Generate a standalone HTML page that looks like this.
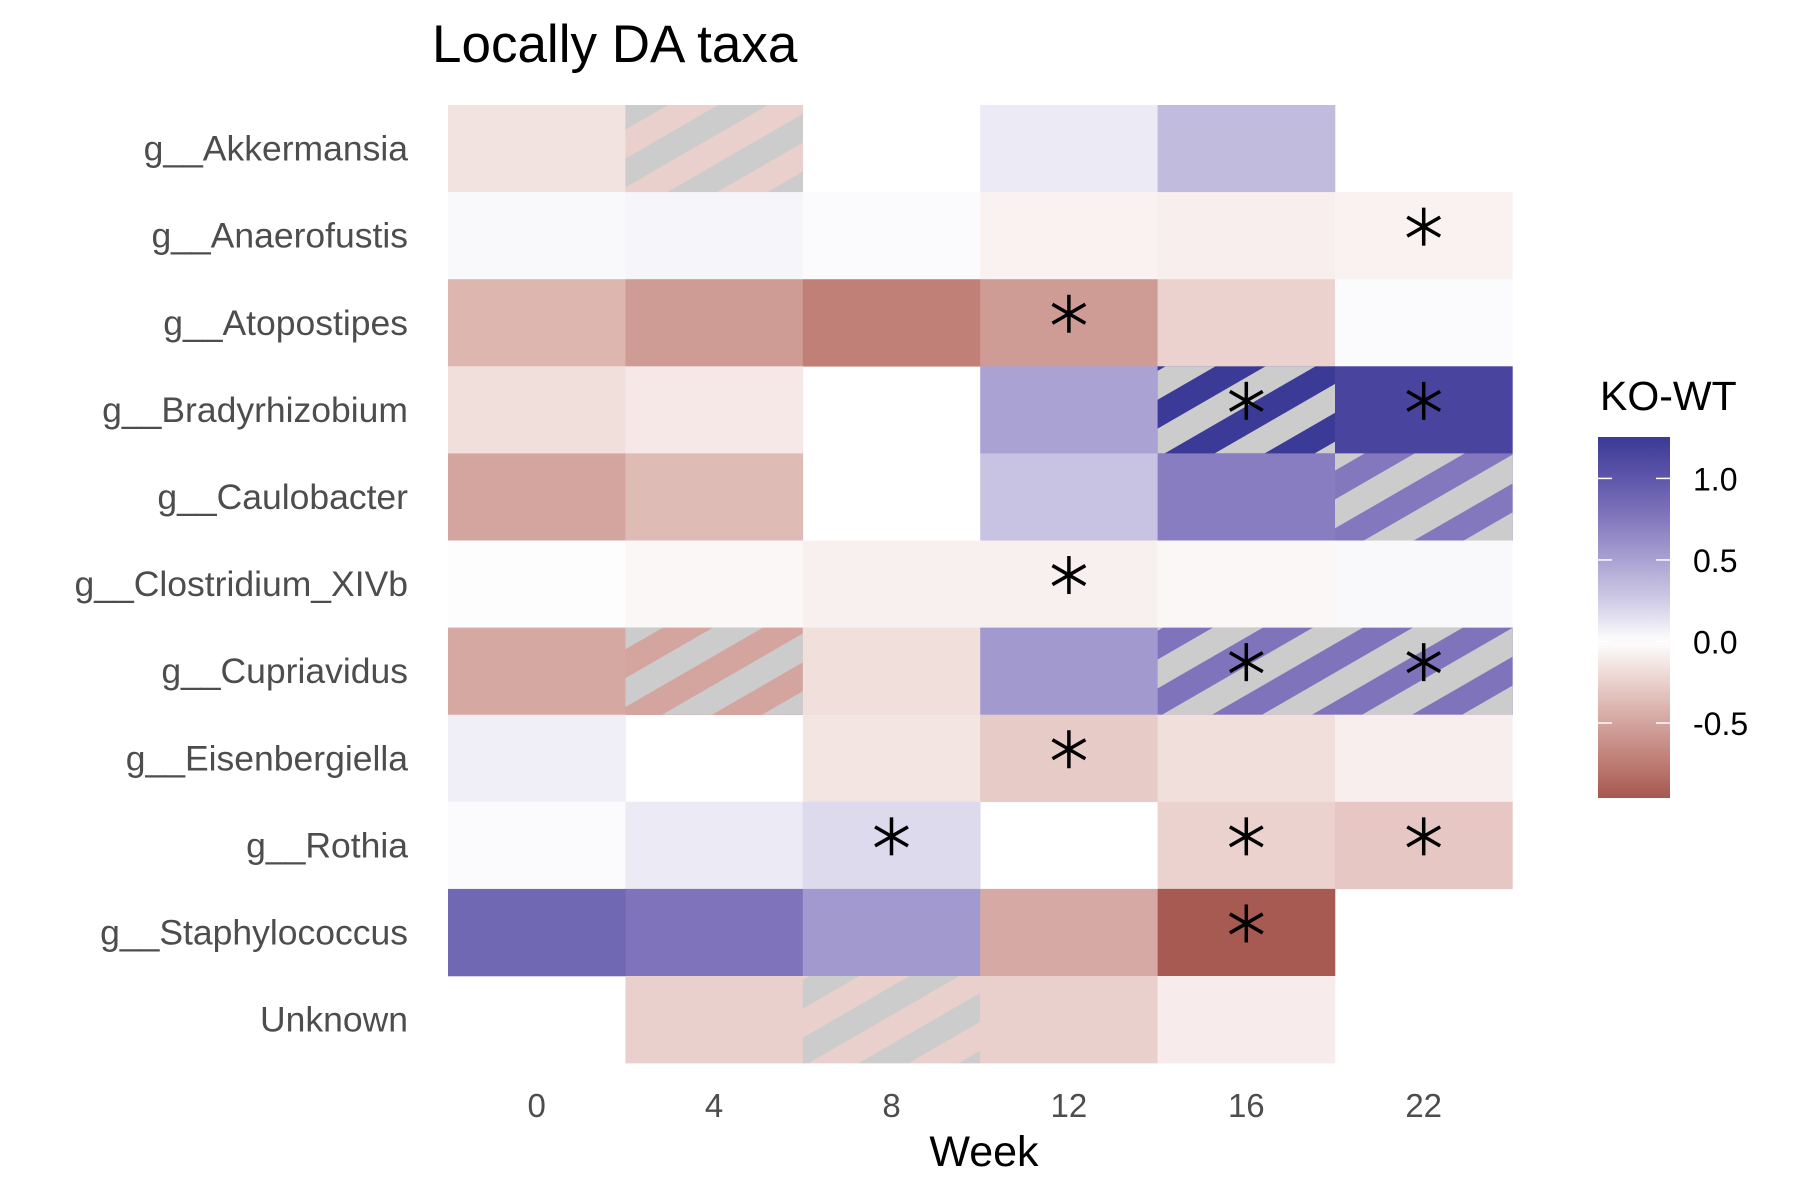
<!DOCTYPE html>
<html><head><meta charset="utf-8"><style>
html,body{margin:0;padding:0;background:#fff;}
svg{display:block;font-family:"Liberation Sans",sans-serif;}
</style></head><body>
<svg id="chart" width="1800" height="1200" viewBox="0 0 1800 1200">
<defs>
<pattern id="hatch" patternUnits="userSpaceOnUse" width="50" height="50" patternTransform="rotate(60)">
<rect x="0" y="0" width="25" height="50" fill="#cccccc"/>
</pattern>
<linearGradient id="cbar" x1="0" y1="1" x2="0" y2="0"></linearGradient>
</defs>
<text x="432" y="62" font-size="53" fill="#000">Locally DA taxa</text>
<g id="tiles"></g>
<g id="ylabels"></g>
<g id="xlabels"></g>
<text x="984" y="1166" font-size="43" text-anchor="middle" fill="#000">Week</text>
<g id="legend">
<text x="1600" y="410" font-size="41" fill="#000">KO-WT</text>
<rect id="cbarRect" x="1598" y="437" width="72" height="361" fill="url(#cbar)"/>
<g id="cticks"></g>
</g>
</svg>
<script>
const taxa = ["g__Akkermansia","g__Anaerofustis","g__Atopostipes","g__Bradyrhizobium","g__Caulobacter","g__Clostridium_XIVb","g__Cupriavidus","g__Eisenbergiella","g__Rothia","g__Staphylococcus","Unknown"];
const weeks = ["0","4","8","12","16","22"];
const values = [
 [-0.15,-0.25,null,0.1,0.35,null],
 [0.03,0.05,0.02,-0.07,-0.09,-0.07],
 [-0.4,-0.55,-0.72,-0.55,-0.24,0.02],
 [-0.17,-0.12,null,0.5,1.25,1.15],
 [-0.5,-0.37,null,0.3,0.72,0.75],
 [-0.01,-0.04,-0.08,-0.08,-0.04,0.03],
 [-0.48,-0.5,-0.17,0.55,0.78,0.78],
 [0.08,null,-0.14,-0.28,-0.17,-0.09],
 [0.02,0.1,0.18,null,-0.24,-0.3],
 [0.87,0.78,0.55,-0.47,-0.95,null],
 [null,-0.25,-0.25,-0.25,-0.1,null]
];
const hatched = [
 [0,1,0,0,0,0],[0,0,0,0,0,0],[0,0,0,0,0,0],[0,0,0,0,1,0],[0,0,0,0,0,1],
 [0,0,0,0,0,0],[0,1,0,0,1,1],[0,0,0,0,0,0],[0,0,0,0,0,0],[0,0,0,0,0,0],[0,0,1,0,0,0]
];
const signif = [
 [0,0,0,0,0,0],[0,0,0,0,0,1],[0,0,0,1,0,0],[0,0,0,0,1,1],[0,0,0,0,0,0],
 [0,0,0,1,0,0],[0,0,0,0,1,1],[0,0,0,1,0,0],[0,0,1,0,1,1],[0,0,0,0,1,0],[0,0,0,0,0,0]
];
const legendTicks = [1.0,0.5,0.0,-0.5];
const legendTickLabels = ["1.0","0.5","0.0","-0.5"];

const NS="http://www.w3.org/2000/svg";
const x0=448, tileW=177.4, y0=105, tileH=87.1;
const xScale = i => x0 + i*tileW;
const yScale = j => y0 + j*tileH;
const stops = [[-0.96,[166,88,80]],[-0.75,[189,123,115]],[-0.5,[212,164,158]],[-0.25,[234,208,204]],[0,[255,255,255]],[0.25,[208,203,230]],[0.5,[170,162,210]],[0.75,[131,120,189]],[1.0,[94,86,170]],[1.254,[58,58,151]]];
function color(v){
  if(v<=stops[0][0]) return rgb(stops[0][1]);
  for(let i=1;i<stops.length;i++){
    if(v<=stops[i][0]){const a=stops[i-1],b=stops[i];const t=(v-a[0])/(b[0]-a[0]);
      return rgb(a[1].map((c,k)=>c+(b[1][k]-c)*t));}
  }
  return rgb(stops[stops.length-1][1]);
}
function rgb(c){return "rgb("+c.map(Math.round).join(",")+")";}
function mk(tag,attrs,parent){const e=document.createElementNS(NS,tag);for(const k in attrs)e.setAttribute(k,attrs[k]);parent.appendChild(e);return e;}

const tilesG=document.getElementById('tiles');
values.forEach((row,j)=>{
  row.forEach((v,i)=>{
    if(v===null) return;
    const r=mk('rect',{x:xScale(i),y:yScale(j),width:tileW+0.3,height:tileH+0.3,fill:color(v)},tilesG);
    
    
    if(hatched[j][i]){
      const h=mk('rect',{x:xScale(i),y:yScale(j),width:tileW,height:tileH,fill:'url(#hatch)'},tilesG);
      
      
    }
  });
});
values.forEach((row,j)=>{
  row.forEach((v,i)=>{
    if(!signif[j][i]) return;
    const cx=xScale(i)+tileW/2, cyy=yScale(j)+tileH/2-9, L=19;
    const g=mk('g',{stroke:'#000','stroke-width':3.5,'stroke-linecap':'butt'},tilesG);
    
    
    [90,30,-30].forEach(a=>{
      const r=a*Math.PI/180, dx=L*Math.cos(r), dy=L*Math.sin(r);
      mk('line',{x1:cx-dx,y1:cyy-dy,x2:cx+dx,y2:cyy+dy},g);
    });
  });
});
const yl=document.getElementById('ylabels');
taxa.forEach((n,j)=>{
  const t=mk('text',{x:408,y:yScale(j)+tileH/2+12,'font-size':35.5,'text-anchor':'end',fill:'#4d4d4d'},yl);
  t.textContent=n;
  
  
});
const xl=document.getElementById('xlabels');
weeks.forEach((w,i)=>{
  const t=mk('text',{x:xScale(i)+tileW/2,y:1117,'font-size':33,'text-anchor':'middle',fill:'#4d4d4d'},xl);
  t.textContent=w;
  
  
});
const cTop=437, cBot=798, vTop=1.254, vBot=-0.96;
const cy = v => cTop + (vTop-v)/(vTop-vBot)*(cBot-cTop);
const grad=document.getElementById('cbar');
for(let k=0;k<=40;k++){
  const v=vBot+(vTop-vBot)*k/40;
  mk('stop',{offset:(k/40*100)+'%','stop-color':color(v)},grad);
}
const ct=document.getElementById('cticks');
legendTicks.forEach((v,k)=>{
  const y=cy(v);
  mk('line',{x1:1598,x2:1612,y1:y,y2:y,stroke:'#fff','stroke-width':1.5},ct);
  mk('line',{x1:1656,x2:1670,y1:y,y2:y,stroke:'#fff','stroke-width':1.5},ct);
  const t=mk('text',{x:1693,y:y+12,'font-size':32,fill:'#000'},ct);
  t.textContent=legendTickLabels[k];
  
  
});
</script>
</body></html>
